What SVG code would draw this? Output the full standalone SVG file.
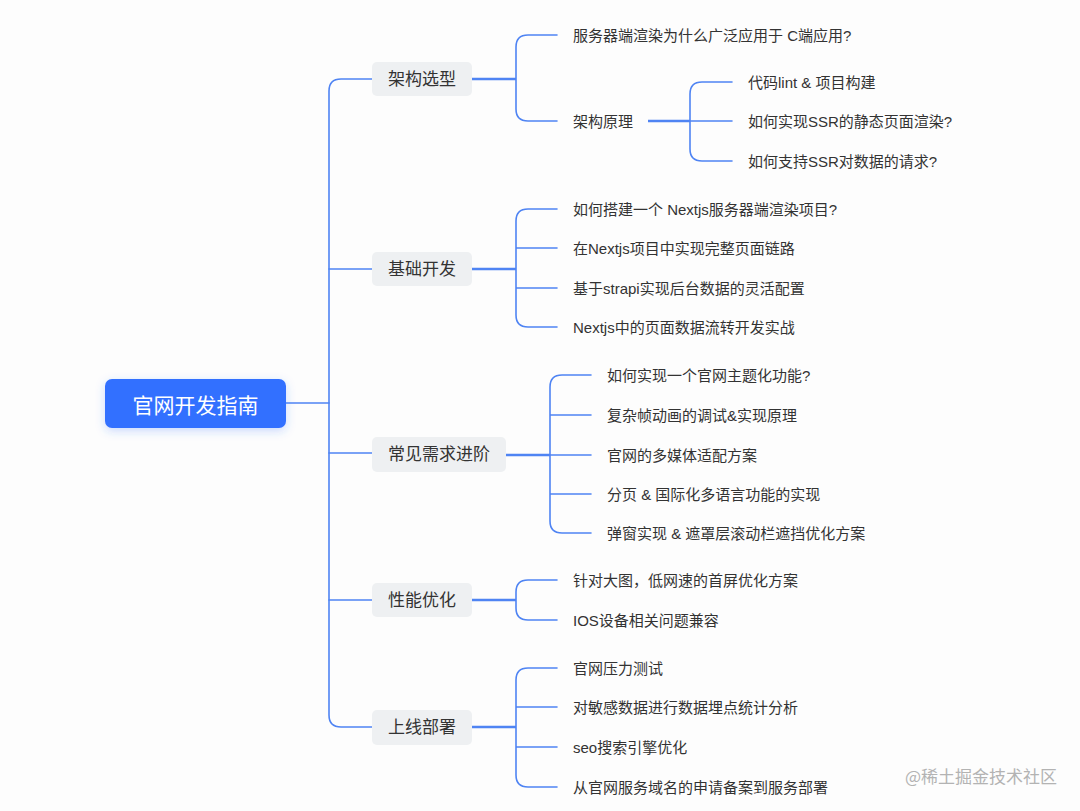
<svg xmlns="http://www.w3.org/2000/svg" width="1080" height="811" viewBox="0 0 1080 811">
<defs>
<filter id="sh" x="-20%" y="-40%" width="140%" height="180%">
<feDropShadow dx="0" dy="3" stdDeviation="5" flood-color="#3370ff" flood-opacity="0.25"/>
</filter>
<style>
.ln{fill:none;stroke:#4f84f3;stroke-width:1.6;stroke-linecap:round}
.lb{fill:none;stroke:#4f84f3;stroke-width:2.6}
.br{fill:#eef0f2;}
.bt{font-family:"Liberation Sans","Noto Sans CJK SC",sans-serif;font-size:17px;fill:#333;text-anchor:middle;dominant-baseline:central}
.lt{font-family:"Liberation Sans","Noto Sans CJK SC",sans-serif;font-size:15px;fill:#333;dominant-baseline:central}
.wm{font-family:"Noto Sans CJK SC",sans-serif;font-size:17px;fill:#b3b3b3}
</style>
</defs>
<rect width="1080" height="811" fill="#fdfdfd"/>

<g id="connectors">
<!-- trunk -->
<path class="ln" d="M286,403 H329"/>
<path class="ln" d="M372,79 H341 Q329,79 329,91 V715 Q329,727 341,727 H372"/>
<path class="ln" d="M329,269 H372 M329,453 H372 M329,600 H372"/>
<!-- branch 1 -->
<path class="lb" d="M472,79 H516"/>
<path class="ln" d="M557,35 H528 Q516,35 516,47 V109 Q516,121 528,121 H557"/>
<path class="lb" d="M648,121 H690"/>
<path class="ln" d="M732,82 H702 Q690,82 690,94 V149 Q690,161 702,161 H732 M690,121 H732"/>
<!-- branch 2 -->
<path class="lb" d="M472,269 H516"/>
<path class="ln" d="M557,209 H528 Q516,209 516,221 V315 Q516,327 528,327 H557 M516,248 H557 M516,288 H557"/>
<!-- branch 3 -->
<path class="lb" d="M506,455 H550"/>
<path class="ln" d="M591,375 H562 Q550,375 550,387 V521 Q550,533 562,533 H591 M550,415 H591 M550,455 H591 M550,494 H591"/>
<!-- branch 4 -->
<path class="lb" d="M472,600 H516"/>
<path class="ln" d="M557,580 H528 Q516,580 516,592 V608 Q516,620 528,620 H557"/>
<!-- branch 5 -->
<path class="lb" d="M472,727 H516"/>
<path class="ln" d="M557,668 H528 Q516,668 516,680 V775 Q516,787 528,787 H557 M516,707 H557 M516,747 H557"/>
</g>

<g id="root">
<rect x="105" y="379" width="181" height="49" rx="7" fill="#3370ff" filter="url(#sh)"/>
<text x="195.5" y="403.5" font-family="'Noto Sans CJK SC',sans-serif" font-size="21" fill="#fff" text-anchor="middle" dominant-baseline="central">官网开发指南</text>
</g>

<g id="b1"><rect class="br" x="372" y="62" width="100" height="34" rx="5"/><text class="bt" x="422" y="79">架构选型</text></g>
<g id="b2"><rect class="br" x="372" y="252" width="100" height="34" rx="5"/><text class="bt" x="422" y="269">基础开发</text></g>
<g id="b3"><rect class="br" x="372" y="437" width="134" height="35" rx="5"/><text class="bt" x="439" y="454">常见需求进阶</text></g>
<g id="b4"><rect class="br" x="372" y="583" width="100" height="34" rx="5"/><text class="bt" x="422" y="600">性能优化</text></g>
<g id="b5"><rect class="br" x="372" y="710" width="100" height="35" rx="5"/><text class="bt" x="422" y="727">上线部署</text></g>

<g id="l1-1"><text class="lt" x="573" y="35">服务器端渲染为什么广泛应用于 C端应用?</text></g>
<g id="l1-2"><text class="lt" x="573" y="121">架构原理</text></g>
<g id="l1-2-1"><text class="lt" x="748" y="82">代码lint &amp; 项目构建</text></g>
<g id="l1-2-2"><text class="lt" x="748" y="121">如何实现SSR的静态页面渲染?</text></g>
<g id="l1-2-3"><text class="lt" x="748" y="161">如何支持SSR对数据的请求?</text></g>

<g id="l2-1"><text class="lt" x="573" y="209">如何搭建一个 Nextjs服务器端渲染项目?</text></g>
<g id="l2-2"><text class="lt" x="573" y="248">在Nextjs项目中实现完整页面链路</text></g>
<g id="l2-3"><text class="lt" x="573" y="288">基于strapi实现后台数据的灵活配置</text></g>
<g id="l2-4"><text class="lt" x="573" y="327">Nextjs中的页面数据流转开发实战</text></g>

<g id="l3-1"><text class="lt" x="607" y="375">如何实现一个官网主题化功能?</text></g>
<g id="l3-2"><text class="lt" x="607" y="415">复杂帧动画的调试&amp;实现原理</text></g>
<g id="l3-3"><text class="lt" x="607" y="455">官网的多媒体适配方案</text></g>
<g id="l3-4"><text class="lt" x="607" y="494">分页 &amp; 国际化多语言功能的实现</text></g>
<g id="l3-5"><text class="lt" x="607" y="533">弹窗实现 &amp; 遮罩层滚动栏遮挡优化方案</text></g>

<g id="l4-1"><text class="lt" x="573" y="580">针对大图，低网速的首屏优化方案</text></g>
<g id="l4-2"><text class="lt" x="573" y="620">IOS设备相关问题兼容</text></g>

<g id="l5-1"><text class="lt" x="573" y="668">官网压力测试</text></g>
<g id="l5-2"><text class="lt" x="573" y="707">对敏感数据进行数据埋点统计分析</text></g>
<g id="l5-3"><text class="lt" x="573" y="747">seo搜索引擎优化</text></g>
<g id="l5-4"><text class="lt" x="573" y="787">从官网服务域名的申请备案到服务部署</text></g>

<text class="wm" x="905" y="783">@稀土掘金技术社区</text>
</svg>
